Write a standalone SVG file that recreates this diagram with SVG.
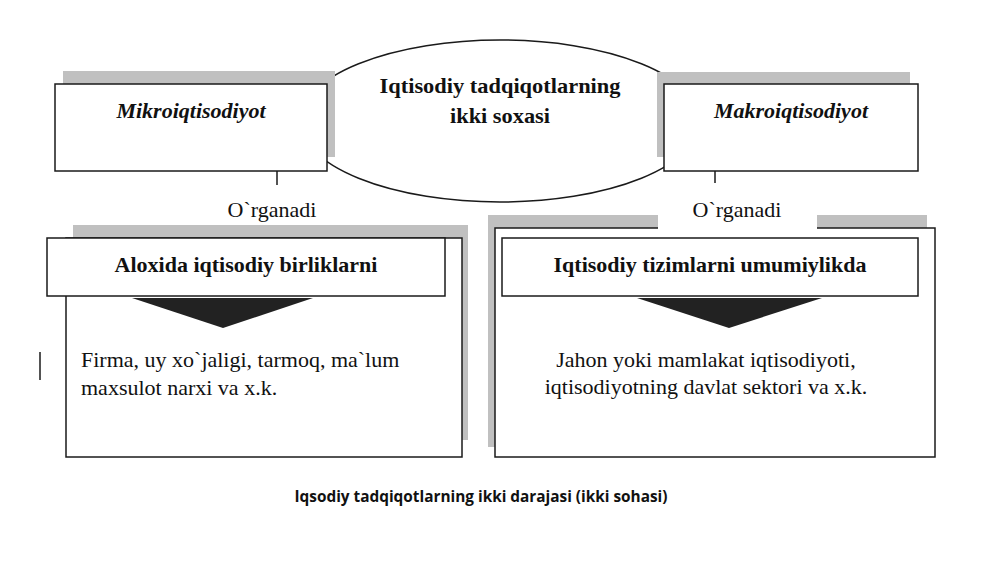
<svg xmlns="http://www.w3.org/2000/svg" width="1000" height="562" viewBox="0 0 1000 562">
<style>
.bg{fill:#ffffff}
.sh{fill:#c0c0c0;stroke:none}
.box{fill:#ffffff;stroke:#1a1a1a;stroke-width:1.5}
.tri{fill:#222222;stroke:none}
.ln{stroke:#1a1a1a;stroke-width:1.5;fill:none}
.t{font-family:"Liberation Serif","Times New Roman",serif;font-size:22px;fill:#111111}
.b{font-weight:bold}
.bi{font-weight:bold;font-style:italic}
.cap{font-family:"Open Sans","Liberation Sans",sans-serif;font-size:16px;font-weight:bold;fill:#111111}
</style>
<rect class="bg" x="0" y="0" width="1000" height="562"/>

<g id="soha">
<ellipse class="box" cx="500" cy="121" rx="200" ry="81"/>
<text class="t b" x="500" y="93" text-anchor="middle" font-size="24" textLength="241" lengthAdjust="spacingAndGlyphs">Iqtisodiy tadqiqotlarning</text>
<text class="t b" x="500" y="123" text-anchor="middle" font-size="24" textLength="100" lengthAdjust="spacingAndGlyphs">ikki soxasi</text>
</g>

<g id="mikro">
<rect class="sh" x="63" y="71" width="272" height="86"/>
<rect class="box" x="55" y="84" width="272" height="87"/>
<text class="t bi" x="191" y="118" text-anchor="middle">Mikroiqtisodiyot</text>
</g>

<g id="makro">
<rect class="sh" x="657" y="72" width="253" height="85"/>
<rect class="box" x="664" y="84" width="254" height="87"/>
<text class="t bi" x="791" y="118" text-anchor="middle">Makroiqtisodiyot</text>
</g>

<g id="connectors">
<line class="ln" x1="277" y1="171" x2="277" y2="185"/>
<line class="ln" x1="715" y1="171" x2="715" y2="183"/>
<line class="ln" x1="40" y1="352" x2="40" y2="380"/>
</g>

<g id="aloxida">
<rect class="sh" x="73" y="225" width="395" height="215"/>
<rect class="box" x="66" y="238" width="396" height="219"/>
<rect class="box" x="47" y="238" width="398" height="58"/>
<text class="t b" x="246" y="272" text-anchor="middle">Aloxida iqtisodiy birliklarni</text>
<polygon class="tri" points="132,298 313,298 223,328"/>
<text class="t" x="81" y="367">Firma, uy xo`jaligi, tarmoq, ma`lum</text>
<text class="t" x="81" y="395">maxsulot narxi va x.k.</text>
<text class="t" x="272" y="217" text-anchor="middle">O`rganadi</text>
</g>

<g id="tizim">
<rect class="sh" x="488" y="215" width="439" height="232"/>
<rect class="box" x="495" y="228" width="440" height="229"/>
<rect class="bg" x="658" y="198" width="159" height="31.5"/>
<rect class="box" x="502" y="238" width="416" height="58"/>
<text class="t b" x="710" y="272" text-anchor="middle">Iqtisodiy tizimlarni umumiylikda</text>
<polygon class="tri" points="637,298 822,298 729,328"/>
<text class="t" x="706" y="367" text-anchor="middle">Jahon yoki mamlakat iqtisodiyoti,</text>
<text class="t" x="706" y="394" text-anchor="middle">iqtisodiyotning davlat sektori va x.k.</text>
<text class="t" x="737" y="217" text-anchor="middle">O`rganadi</text>
</g>

<text class="cap" x="481" y="502" text-anchor="middle" textLength="373" lengthAdjust="spacingAndGlyphs">Iqsodiy tadqiqotlarning ikki darajasi (ikki sohasi)</text>
</svg>
